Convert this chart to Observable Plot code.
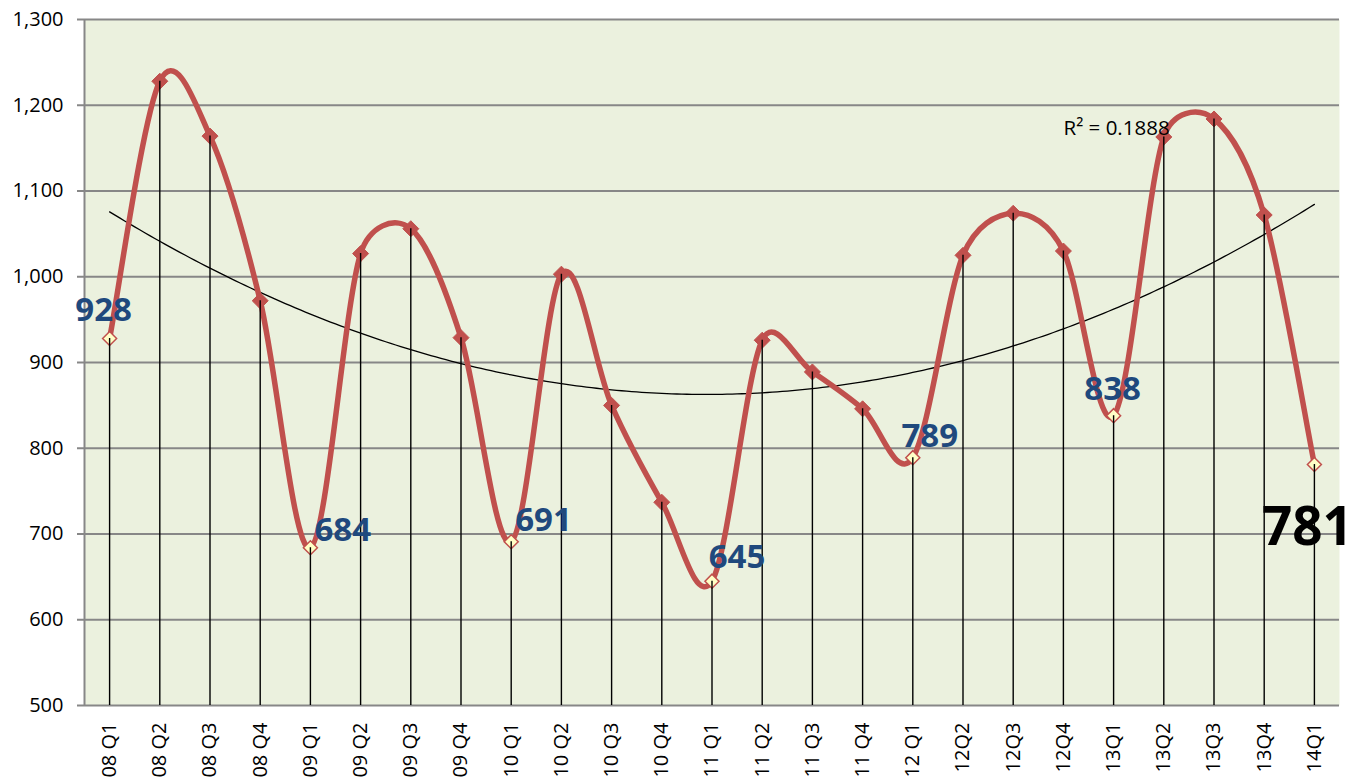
<!DOCTYPE html>
<html>
<head>
<meta charset="utf-8">
<script src="https://cdn.jsdelivr.net/npm/d3@7"></script>
<script src="https://cdn.jsdelivr.net/npm/@observablehq/plot@0.6"></script>
<style>
  html, body { margin: 0; padding: 0; background: #ffffff; }
  #chart svg { display: block; }
</style>
</head>
<body>
<div id="chart"></div>
<script>
// ---- data ----
const quarters = ["08 Q1","08 Q2","08 Q3","08 Q4","09 Q1","09 Q2","09 Q3","09 Q4",
  "10 Q1","10 Q2","10 Q3","10 Q4","11 Q1","11 Q2","11 Q3","11 Q4",
  "12 Q1","12Q2","12Q3","12Q4","13Q1","13Q2","13Q3","13Q4","14Q1"];
const values = [928,1228,1164,972,684,1027,1056,929,691,1003,850,737,645,926,889,846,
  789,1025,1074,1030,838,1163,1184,1072,781];
const yTicks = [500,600,700,800,900,1000,1100,1200,1300];
const highlighted = [0,4,8,12,16,20,24]; // Q1 points with labels
const rSquaredText = "R² = 0.1888";

// ---- derived table ----
const table = values.map((v, i) => ({i, q: quarters[i], v, hi: highlighted.includes(i)}));

// quadratic least-squares trend (polynomial order 2) on the data
function quadFit(ys) {
  let S = [0,0,0,0,0], T = [0,0,0];
  ys.forEach((y, x) => {
    for (let k = 0; k < 5; k++) S[k] += Math.pow(x, k);
    for (let k = 0; k < 3; k++) T[k] += y * Math.pow(x, k);
  });
  const A = [[S[0],S[1],S[2],T[0]],[S[1],S[2],S[3],T[1]],[S[2],S[3],S[4],T[2]]];
  for (let c = 0; c < 3; c++) {
    for (let r = c + 1; r < 3; r++) {
      const f = A[r][c] / A[c][c];
      for (let k = c; k < 4; k++) A[r][k] -= f * A[c][k];
    }
  }
  const b = [0,0,0];
  for (let r = 2; r >= 0; r--) {
    let s = A[r][3];
    for (let k = r + 1; k < 3; k++) s -= A[r][k] * b[k];
    b[r] = s / A[r][r];
  }
  return x => b[0] + b[1] * x + b[2] * x * x;
}
const trendFn = quadFit(values);
const trend = d3.range(0, values.length - 1 + 1e-9, 0.1).map(x => ({x, y: trendFn(x)}));

// Excel-style smoothed line: Bezier handles of min(d02/6, d12/2)
function excelSmooth(context) {
  let pts;
  const dist = (a, b) => Math.hypot(a[0] - b[0], a[1] - b[1]);
  return {
    areaStart() {}, areaEnd() {},
    lineStart() { pts = []; },
    point(x, y) { pts.push([+x, +y]); },
    lineEnd() {
      const n = pts.length;
      if (!n) return;
      context.moveTo(pts[0][0], pts[0][1]);
      for (let i = 0; i < n - 1; i++) {
        const p0 = pts[Math.max(0, i - 1)], p1 = pts[i], p2 = pts[i + 1], p3 = pts[Math.min(n - 1, i + 2)];
        const d02 = dist(p0, p2), d12 = dist(p1, p2), d13 = dist(p1, p3);
        const f = d02 > 0 ? Math.min(1 / 6, d12 / (2 * d02)) : 0;
        const g = d13 > 0 ? Math.min(1 / 6, d12 / (2 * d13)) : 0;
        context.bezierCurveTo(
          p1[0] + f * (p2[0] - p0[0]), p1[1] + f * (p2[1] - p0[1]),
          p2[0] - g * (p3[0] - p1[0]), p2[1] - g * (p3[1] - p1[1]),
          p2[0], p2[1]);
      }
    }
  };
}

// square-on-point diamond symbol (half diagonal = r)
const diamond = {
  draw(ctx, size) {
    const h = Math.sqrt(size / Math.PI);
    ctx.moveTo(0, -h); ctx.lineTo(h, 0); ctx.lineTo(0, h); ctx.lineTo(-h, 0); ctx.closePath();
  }
};

const RED = "#C0504D", BLUE = "#1F497D", GRID = "#878787";

// label placements (styling, offsets from the point)
const labelOpts = {
  0:  {dx: -6, dy: -28, textAnchor: "middle"},
  4:  {dx: 4,  dy: -17, textAnchor: "start"},
  8:  {dx: 4,  dy: -21, textAnchor: "start"},
  12: {dx: 25, dy: -24, textAnchor: "middle"},
  16: {dx: 17, dy: -21, textAnchor: "middle"},
  20: {dx: -1, dy: -26, textAnchor: "middle"}
};

const labelMarks = Object.entries(labelOpts).map(([i, o]) =>
  Plot.text([table[+i]], {x: "i", y: "v", text: d => String(d.v), fill: BLUE,
    fontWeight: "bold", fontSize: 33, ...o})
);

const chart = Plot.plot({
  width: 1358,
  height: 781,
  marginLeft: 84,
  marginRight: 19,
  marginTop: 19,
  marginBottom: 76,
  style: {fontFamily: "'Open Sans', sans-serif", background: "#ffffff", color: "#000"},
  x: {domain: [-0.5, values.length - 0.5], axis: null},
  y: {domain: [500, 1300], axis: null},
  marks: [
    Plot.frame({fill: "#EBF1DE", stroke: null}),
    Plot.ruleY(yTicks, {stroke: GRID, strokeWidth: 2}),
    Plot.ruleX([-0.5], {stroke: GRID, strokeWidth: 2}),
    Plot.line(trend, {x: "x", y: "y", stroke: "#000", strokeWidth: 1.3}),
    Plot.line(table, {x: "i", y: "v", stroke: RED, strokeWidth: 5.5, curve: excelSmooth, strokeLinejoin: "round"}),
    Plot.dot(table.filter(d => !d.hi), {x: "i", y: "v", symbol: diamond, r: 8, fill: RED, stroke: RED, strokeWidth: 1}),
    Plot.dot(table.filter(d => d.hi), {x: "i", y: "v", symbol: diamond, r: 7, fill: "#FFFFC6", stroke: RED, strokeWidth: 1.5}),
    Plot.ruleX(table, {x: "i", y1: 500, y2: "v", stroke: "#000", strokeWidth: 1.4}),
    ...labelMarks,
    Plot.text([table[24]], {x: "i", y: "v", text: d => String(d.v), fill: "#000",
      fontWeight: "bold", fontSize: 53, dx: -7, dy: 63, textAnchor: "middle", letterSpacing: -3}),
    Plot.text([rSquaredText], {frameAnchor: "top-right", textAnchor: "start", dx: -276, dy: 101,
      fontSize: 20.5, fill: "#000"}),
    Plot.axisY({ticks: yTicks, tickFormat: d3.format(","), tickSize: 7, tickPadding: 14,
      fontSize: 20, stroke: GRID, fill: "#000", strokeWidth: 2}),
    Plot.axisX({ticks: d3.range(values.length), tickFormat: i => quarters[i], tickRotate: -90,
      tickSize: 0, tickPadding: 17, fontSize: 20, fill: "#000"})
  ]
});
document.getElementById("chart").appendChild(chart);
</script>
</body>
</html>
